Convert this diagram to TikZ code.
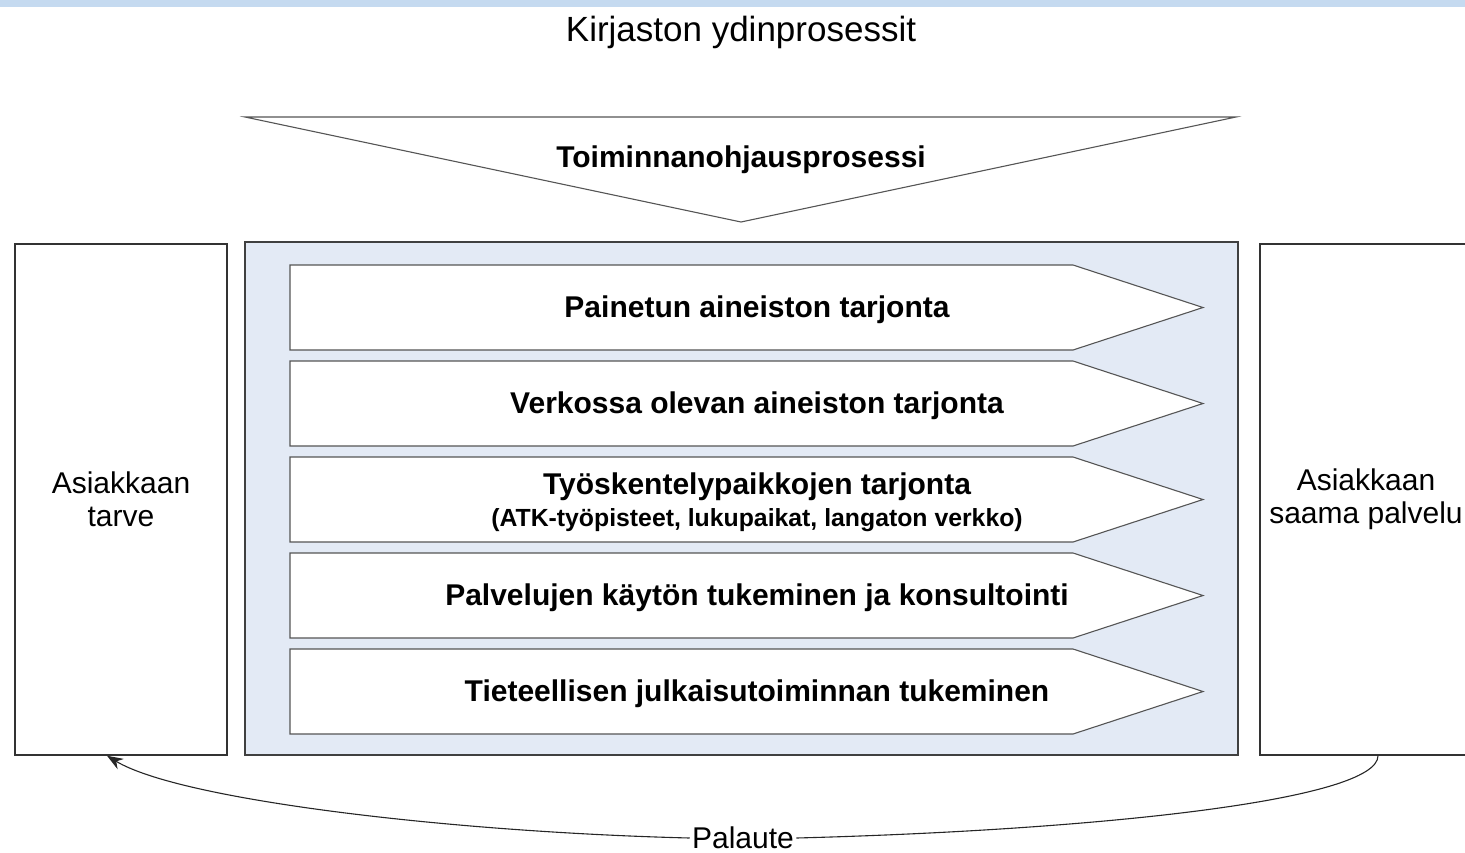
\documentclass[tikz,border=0pt]{standalone}
\usepackage{fontspec}
\setmainfont{Liberation Sans}
\usepackage{xcolor}
\usepackage{tikz}
\usetikzlibrary{positioning,arrows.meta}
\definecolor{topband}{RGB}{197,218,240}
\definecolor{corefill}{RGB}{227,234,245}
\definecolor{edgegray}{RGB}{85,85,85}
\tikzset{
  sidebox/.style={draw=black!80, line width=0.75pt, fill=white, minimum width=106pt, minimum height=255.5pt, align=center, font=\fontsize{15}{16.5}\selectfont},
  corebox/.style={draw=black!75, line width=0.75pt, fill=corefill, minimum width=496.5pt, minimum height=256.5pt},
  procarrow/.style={draw=edgegray, line width=0.55pt, fill=white},
  proctext/.style={align=center, font=\fontsize{15}{16}\selectfont\bfseries},
  fbline/.style={draw=black!85, line width=0.55pt}
}

\begin{document}
\begin{tikzpicture}[x=0.5pt, y=-0.5pt]
   \useasboundingbox (0,0) rectangle (1465,852);
   \clip (0,0) rectangle (1465,852);
   \fill[topband] (0,0) rectangle (1465,7);
   \node[font=\fontsize{17.5}{20}\selectfont] (title) at (741,32) {Kirjaston ydinprosessit};
   % ohjausprosessi
   \draw[procarrow] (245,117) -- (1236,117) -- (741,222) -- cycle;
   \node[proctext] (ctrl) at (741,160) {Toiminnanohjausprosessi};
   % laatikot
   \node[sidebox] (need) at (121,499.5) {Asiakkaan\\tarve};
   \node[corebox] (core) at (741.5,498.5) {};
   \node[sidebox] (serv) at (1366,499.5) {Asiakkaan\\saama palvelu};
   % ydinprosessit
   \foreach \y/\txt [count=\i] in {265/{Painetun aineiston tarjonta},
       361/{Verkossa olevan aineiston tarjonta},
       457/{Työskentelypaikkojen tarjonta\\{\fontsize{12.4}{14}\selectfont (ATK-työpisteet, lukupaikat, langaton verkko)}},
       553/{Palvelujen käytön tukeminen ja konsultointi},
       649/{Tieteellisen julkaisutoiminnan tukeminen}} {
     \draw[procarrow] (290,\y) -- (1073,\y) -- (1203,\y+42.5) -- (1073,\y+85) -- (290,\y+85) -- cycle;
     \node[proctext] (p\i) at (757,\y+45) {\txt};
   }
   % palaute
   \node[font=\fontsize{15}{16}\selectfont, inner sep=1pt] (fb) at (743,838) {Palaute};
   \draw[fbline] ([xshift=6pt]serv.south) .. controls (1378,800) and (1100,830) .. (fb.east);
   \draw[fbline, -{Stealth[length=8pt, width=6pt]}] (fb.west) .. controls (450,832) and (180,800) .. ([xshift=-7pt]need.south);
\end{tikzpicture}
\end{document}
